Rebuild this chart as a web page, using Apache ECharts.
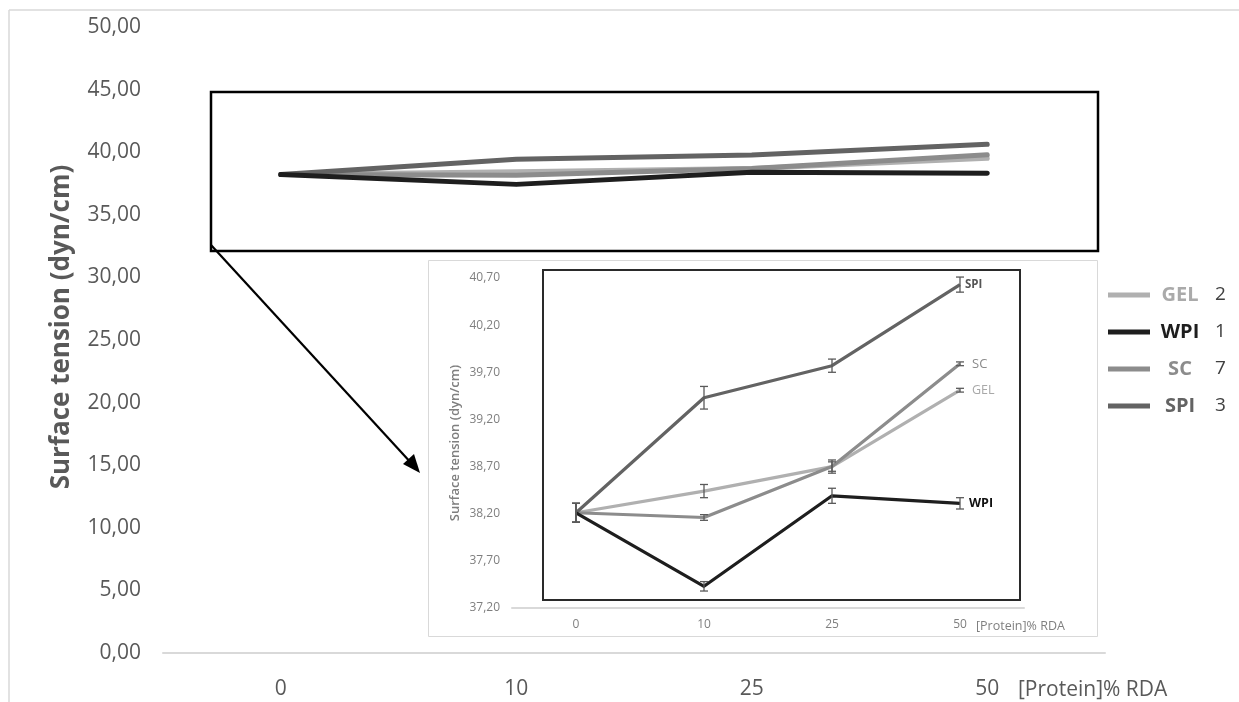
<!DOCTYPE html>
<html>
<head>
<meta charset="utf-8">
<script src="https://cdn.jsdelivr.net/npm/echarts@6/dist/echarts.min.js"></script>
<style>
  html, body { margin: 0; padding: 0; background: #fff; }
  #chart { width: 1239px; height: 702px; }
</style>
</head>
<body>
<div id="chart"></div>
<script>
// Protein dose as % of RDA
const categories = ['0', '10', '25', '50'];

// Surface tension (dyn/cm) per protein
const gel = [38.21, 38.44, 38.70, 39.51];
const wpi = [38.21, 37.43, 38.39, 38.31];
const sc  = [38.21, 38.16, 38.70, 39.79];
const spi = [38.21, 39.43, 39.77, 40.63];

// Standard deviations for the error bars
const gelErr = [0.10, 0.07, 0.05, 0.02];
const wpiErr = [0.10, 0.05, 0.08, 0.06];
const scErr  = [0.10, 0.03, 0.07, 0.02];
const spiErr = [0.10, 0.12, 0.07, 0.08];

// Main axis ticks and the zoomed axis ticks
const mainTicks = { min: 0, max: 50, step: 5 };
const zoomTicks = { min: 37.2, max: 40.7, step: 0.5 };

// Numbers printed after the legend names
const legendNums = { GEL: '2', WPI: '1', SC: '7', SPI: '3' };

const colors = { GEL: '#b0b0b0', WPI: '#1e1e1e', SC: '#8c8c8c', SPI: '#636363' };
const richKey = { GEL: 'g', WPI: 'w', SC: 's', SPI: 'p' };

const FONT = '"Open Sans", "DejaVu Sans", sans-serif';
const comma = (d) => (v) => v.toFixed(d).replace('.', ',');

const chart = echarts.init(document.getElementById('chart'), null, { renderer: 'canvas' });

const seriesDefs = [
  { name: 'GEL', data: gel, err: gelErr },
  { name: 'SC',  data: sc,  err: scErr },
  { name: 'SPI', data: spi, err: spiErr },
  { name: 'WPI', data: wpi, err: wpiErr }
];

// End-of-line tags inside the zoomed panel
const endTag = {
  GEL: { color: '#a8a8a8', fontWeight: 'normal', fontSize: 12.5, distance: 12 },
  SC:  { color: '#8a8a8a', fontWeight: 'normal', fontSize: 13, distance: 12 },
  SPI: { color: '#555555', fontWeight: 'bold', fontSize: 11.5, distance: 5 },
  WPI: { color: '#111111', fontWeight: 'bold', fontSize: 12.5, distance: 9 }
};

function errorBarRender(params, api) {
  const x = api.value(0), v = api.value(1), e = api.value(2);
  const hi = api.coord([x, v + e]);
  const lo = api.coord([x, v - e]);
  const w = 4;
  const st = { stroke: '#5a5a5a', lineWidth: 1.3 };
  return {
    type: 'group',
    children: [
      { type: 'line', shape: { x1: hi[0], y1: hi[1], x2: lo[0], y2: lo[1] }, style: st },
      { type: 'line', shape: { x1: hi[0] - w, y1: hi[1], x2: hi[0] + w, y2: hi[1] }, style: st },
      { type: 'line', shape: { x1: lo[0] - w, y1: lo[1], x2: lo[0] + w, y2: lo[1] }, style: st }
    ]
  };
}

const series = [];
seriesDefs.forEach((s) => {
  // full-scale lines
  series.push({
    name: s.name, type: 'line', xAxisIndex: 0, yAxisIndex: 0,
    data: s.data, symbol: 'none', z: 3,
    lineStyle: { color: colors[s.name], width: 5, cap: 'round', join: 'round' },
    itemStyle: { color: colors[s.name] }
  });
  // zoomed lines
  const t = endTag[s.name];
  series.push({
    name: s.name, type: 'line', xAxisIndex: 1, yAxisIndex: 1,
    symbol: 'none', z: 6,
    data: s.data,
    endLabel: {
      show: true, formatter: s.name, distance: t.distance,
      color: t.color, fontWeight: t.fontWeight, fontSize: t.fontSize, fontFamily: FONT
    },
    lineStyle: { color: colors[s.name], width: 3.2, join: 'round' },
    itemStyle: { color: colors[s.name] }
  });
});
seriesDefs.forEach((s) => {
  series.push({
    name: s.name + ' SD', type: 'custom', xAxisIndex: 1, yAxisIndex: 1, z: 7,
    renderItem: errorBarRender,
    encode: { x: 0, y: 1 },
    data: s.data.map((v, i) => [i, v, s.err[i]]),
    silent: true
  });
});

const legendRich = {
  num: { fontSize: 19, color: '#404040', fontFamily: FONT, padding: [0, 0, 0, 10], lineHeight: 22 }
};
Object.keys(richKey).forEach((n) => {
  legendRich[richKey[n]] = {
    width: 50, align: 'center', color: colors[n] === '#b0b0b0' ? '#aaaaaa' : colors[n],
    fontWeight: 'bold', fontSize: 20, fontFamily: FONT, lineHeight: 22
  };
});

const option = {
  animation: false,
  backgroundColor: '#ffffff',
  textStyle: { fontFamily: FONT },
  legend: {
    data: ['GEL', 'WPI', 'SC', 'SPI'],
    orient: 'vertical',
    left: 1103, top: 280,
    icon: 'rect', itemWidth: 42, itemHeight: 5, itemGap: 17,
    formatter: (name) => `{${richKey[name]}|${name}}{num|${legendNums[name]}}`,
    textStyle: { rich: legendRich }
  },
  grid: [
    { left: 163, right: 134, top: 27, bottom: 49, containLabel: false, outerBoundsMode: 'none' },
    { left: 512, width: 512, top: 278, height: 330, containLabel: false, outerBoundsMode: 'none' }
  ],
  xAxis: [
    {
      type: 'category', gridIndex: 0, data: categories, boundaryGap: true,
      axisLine: { lineStyle: { color: '#d9d9d9', width: 2 } },
      axisTick: { show: false },
      axisLabel: { color: '#595959', fontSize: 21, margin: 26, fontFamily: FONT },
      name: '[Protein]% RDA', nameLocation: 'end', nameGap: -87,
      nameTextStyle: { color: '#595959', fontSize: 21, fontFamily: FONT, verticalAlign: 'top', lineHeight: 74 }
    },
    {
      type: 'category', gridIndex: 1, data: categories, boundaryGap: true, z: 3,
      axisLine: { lineStyle: { color: '#d9d9d9', width: 2 } },
      axisTick: { show: false },
      axisLabel: { color: '#7f7f7f', fontSize: 12, margin: 11, fontFamily: FONT },
      name: '[Protein]% RDA', nameLocation: 'end', nameGap: -48,
      nameTextStyle: { color: '#7f7f7f', fontSize: 12.5, fontFamily: FONT, verticalAlign: 'top', lineHeight: 36 }
    }
  ],
  yAxis: [
    {
      type: 'value', gridIndex: 0,
      min: mainTicks.min, max: mainTicks.max, interval: mainTicks.step,
      axisLine: { show: false }, axisTick: { show: false }, splitLine: { show: false },
      axisLabel: { color: '#595959', fontSize: 21, margin: 22, formatter: comma(2), fontFamily: FONT }
    },
    {
      type: 'value', gridIndex: 1, z: 3,
      min: zoomTicks.min, max: zoomTicks.max, interval: zoomTicks.step,
      axisLine: { show: false }, axisTick: { show: false }, splitLine: { show: false },
      axisLabel: { color: '#7f7f7f', fontSize: 12, margin: 12, formatter: comma(2), fontFamily: FONT },
      name: 'Surface tension (dyn/cm)', nameLocation: 'middle', nameGap: 50,
      nameTextStyle: { color: '#7f7f7f', fontSize: 13, fontWeight: 600, fontFamily: FONT }
    }
  ],
  graphic: [
    // outer frame
    { type: 'line', z: 0, shape: { x1: 9, y1: 10, x2: 1239, y2: 10 }, style: { stroke: '#d9d9d9', lineWidth: 1.5 } },
    { type: 'line', z: 0, shape: { x1: 9, y1: 10, x2: 9, y2: 702 }, style: { stroke: '#d9d9d9', lineWidth: 1.5 } },
    // value-axis title of the full-scale plot
    { type: 'text', z: 5, x: 62, y: 327, rotation: Math.PI / 2,
      style: { text: 'Surface tension (dyn/cm)', fill: '#595959', font: 'bold 26px ' + FONT,
               align: 'center', verticalAlign: 'middle' } },
    // zoom panel background
    { type: 'rect', z: 1, shape: { x: 428.5, y: 260.5, width: 669, height: 376 },
      style: { fill: '#ffffff', stroke: '#d9d9d9', lineWidth: 1 } },
    // zoom panel frame
    { type: 'rect', z: 2, shape: { x: 543, y: 270, width: 477, height: 330 },
      style: { fill: 'none', stroke: '#2a2a2a', lineWidth: 2 } },
    // highlight box on the full-scale plot
    { type: 'rect', z: 5, shape: { x: 211, y: 92, width: 887, height: 159 },
      style: { fill: 'none', stroke: '#000000', lineWidth: 2.5 } },
    // pointer arrow
    { type: 'line', z: 5, shape: { x1: 211, y1: 245, x2: 413, y2: 465 }, style: { stroke: '#000000', lineWidth: 2.2 } },
    { type: 'polygon', z: 5, shape: { points: [[420, 473], [403, 464], [414, 454]] }, style: { fill: '#000000' } }
  ],
  series: series
};

chart.setOption(option);
</script>
</body>
</html>
